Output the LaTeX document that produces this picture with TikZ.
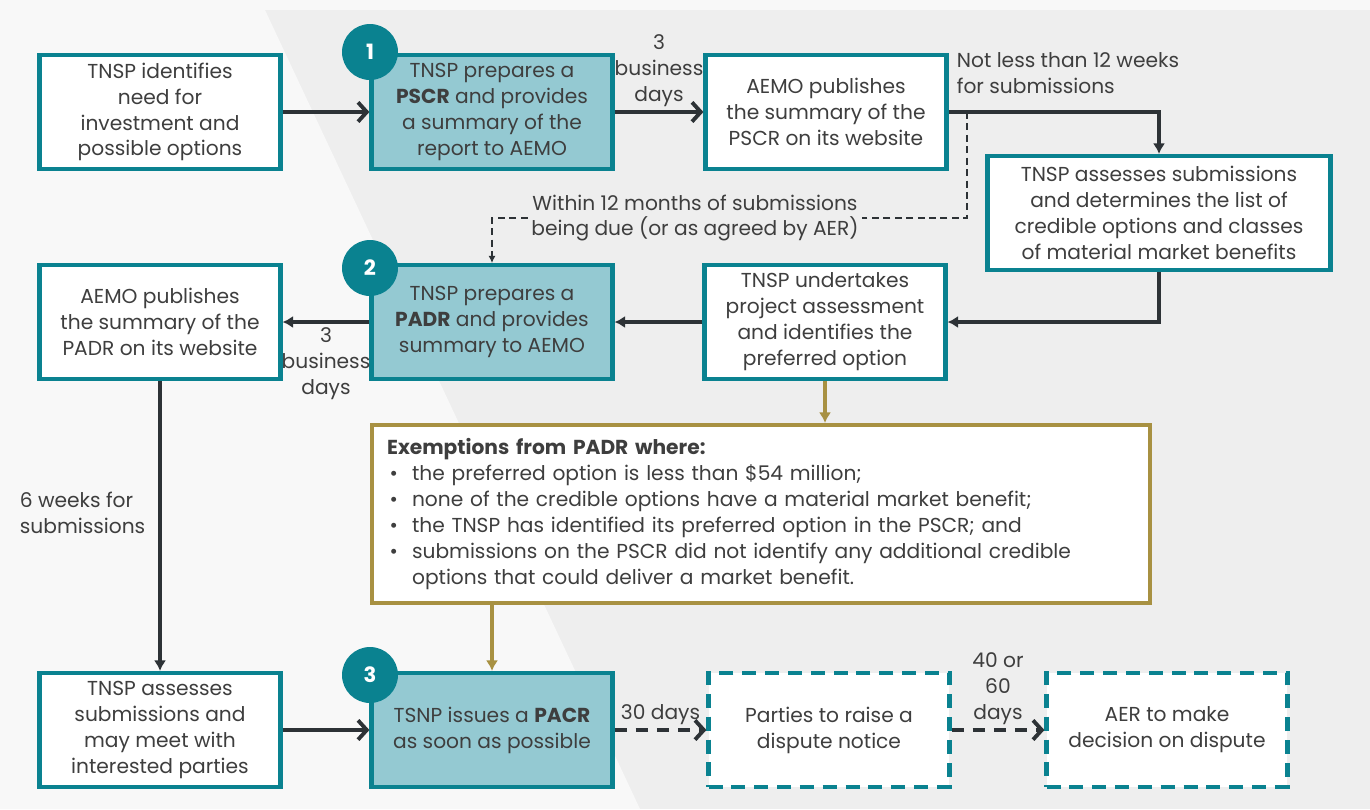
\documentclass[tikz,border=0pt]{standalone}
\usepackage{fontspec}
\setmainfont{Poppins}
\usetikzlibrary{arrows.meta}
\definecolor{tealline}{RGB}{10,130,144}
\definecolor{tealfill}{RGB}{148,201,210}
\definecolor{goldline}{RGB}{168,145,66}
\definecolor{darkline}{RGB}{45,50,54}
\definecolor{textgray}{RGB}{62,62,62}
\definecolor{bgfill}{RGB}{238,238,238}
\definecolor{bglight}{RGB}{248,248,248}

\begin{document}
\begin{tikzpicture}[x=0.02cm,y=-0.02cm,
    font=\fontsize{11.5}{14.75}\selectfont,
    box/.style={draw=tealline,line width=2.4pt,fill=white,text=textgray,align=center,inner sep=0pt,minimum width=4.82cm,minimum height=2.28cm},
    keybox/.style={box,fill=tealfill},
    widebox/.style={box,minimum width=6.86cm},
    dashbox/.style={box,dash pattern=on 8pt off 5pt},
    exbox/.style={draw=goldline,line width=2.4pt,fill=white,text=textgray,align=left,inner sep=0pt,minimum width=15.56cm,minimum height=3.56cm,text width=14.96cm},
    num/.style={circle,fill=tealline,text=white,font=\bfseries\fontsize{12}{14}\selectfont,minimum size=1.12cm,inner sep=0pt},
    lbl/.style={text=textgray,align=center,inner sep=2pt},
    arr/.style={draw=darkline,line width=2.2pt,-{Straight Barb[length=5pt,width=11pt]}},
    arrl/.style={draw=darkline,line width=2pt,-{Latex[length=6pt,width=7pt]}},
    darr/.style={arr,dash pattern=on 7pt off 5pt},
    goldarr/.style={draw=goldline,line width=2pt,-{Latex[length=6pt,width=7pt]}},
    thinarr/.style={draw=darkline,line width=0.6pt,dash pattern=on 4pt off 2.5pt}]
        \fill[bgfill] (0,0) rectangle (1370,809);
        \fill[bglight] (0,0) rectangle (1370,10);
        \fill[bglight] (0,10) -- (265,10) -- (640,809) -- (0,809) -- cycle;

        \node[box] (need) at (160,112) {TNSP identifies\\need for\\investment and\\possible options};
        \node[keybox] (pscr) at (492,112) {TNSP prepares a\\\textbf{PSCR} and provides\\a summary of the\\report to AEMO};
        \node[box] (pubpscr) at (826,112) {AEMO publishes\\the summary of the\\PSCR on its website};
        \node[widebox] (assess) at (1159,213) {TNSP assesses submissions\\and determines the list of\\credible options and classes\\of material market benefits};
        \node[box] (undertake) at (825,322) {TNSP undertakes\\project assessment\\and identifies the\\preferred option};
        \node[keybox] (padr) at (492,322) {TNSP prepares a\\\textbf{PADR} and provides\\summary to AEMO};
        \node[box] (pubpadr) at (160,322) {AEMO publishes\\the summary of the\\PADR on its website};
        \node[exbox] (exempt) at (761,514) {\textbf{Exemptions from PADR where:}\\
            \makebox[0.5cm][l]{\hspace{0.05cm}\textbullet}the preferred option is less than \$54 million;\\
            \makebox[0.5cm][l]{\hspace{0.05cm}\textbullet}none of the credible options have a material market benefit;\\
            \makebox[0.5cm][l]{\hspace{0.05cm}\textbullet}the TNSP has identified its preferred option in the PSCR; and\\
            \makebox[0.5cm][l]{\hspace{0.05cm}\textbullet}submissions on the PSCR did not identify any additional credible\\
            \makebox[0.5cm][l]{}options that could deliver a market benefit.};
        \node[box] (assess2) at (160,730) {TNSP assesses\\submissions and\\may meet with\\interested parties};
        \node[keybox] (pacr) at (492,730) {TSNP issues a \textbf{PACR}\\as soon as possible};
        \node[dashbox] (dispute) at (829,730) {Parties to raise a\\dispute notice};
        \node[dashbox] (decision) at (1167,730) {AER to make\\decision on dispute};

        \node[num] (n1) at (370,52) {1};
        \node[num] (n2) at (370,268) {2};
        \node[num] (n3) at (370,675) {3};

        \node[lbl,anchor=west,align=left] (weeks) at (953,73) {Not less than 12 weeks\\for submissions};
        \node[lbl] (within) at (695,218) {Within 12 months of submissions\\being due (or as agreed by AER)};
        \node[lbl,anchor=west,align=left] (sixweeks) at (16,513) {6 weeks for\\submissions};
        \coordinate (split) at (967,112);

        \draw[arr] (need) to (pscr);
        \draw[arr] (pscr) to node[lbl,above]{3\\business\\days} (pubpscr);
        \draw[arrl] (pubpscr.east) -| (assess.north);
        \draw[arrl] (assess.south) |- (undertake.east);
        \draw[arrl] (undertake) to (padr);
        \draw[arrl] (padr) to node[lbl,below]{3\\business\\days} (pubpadr);
        \draw[thinarr] (split) |- (within.east);
        \draw[thinarr,-{Latex[length=4pt,width=4pt]}] (within.west) -| (padr.north);
        \draw[arrl] (pubpadr) to (assess2);
        \draw[arr] (assess2) to (pacr);
        \draw[goldarr] (undertake.south) -- (undertake.south |- exempt.north);
        \draw[goldarr] (exempt.south -| pacr.north) -- (pacr.north);
        \draw[darr] (pacr) to node[lbl,above]{30 days} (dispute);
        \draw[darr] (dispute) to node[lbl,above]{40 or\\60\\days} (decision);
\end{tikzpicture}
\end{document}
